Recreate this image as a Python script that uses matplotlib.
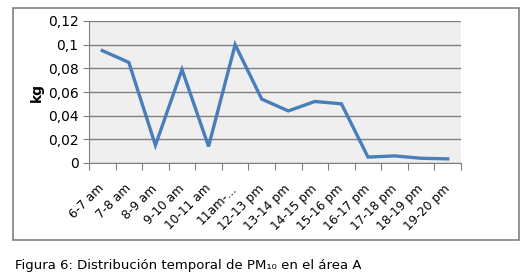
import matplotlib.pyplot as plt
from matplotlib.patches import Rectangle

horas = ['6-7 am', '7-8 am', '8-9 am', '9-10 am', '10-11 am', '11am-...',
         '12-13 pm', '13-14 pm', '14-15 pm', '15-16 pm', '16-17 pm',
         '17-18 pm', '18-19 pm', '19-20 pm']
pm10 = [0.095, 0.085, 0.015, 0.079, 0.014, 0.100, 0.054, 0.044,
        0.052, 0.050, 0.005, 0.006, 0.004, 0.0035]
yticks = [0, 0.02, 0.04, 0.06, 0.08, 0.1, 0.12]
ylabels = ['0', '0,02', '0,04', '0,06', '0,08', '0,1', '0,12']

fig = plt.figure(figsize=(5.28, 2.80), dpi=100)
fig.patches.append(Rectangle((13/528, 1-240/280), 506/528, 232/280,
                             transform=fig.transFigure, fill=False,
                             edgecolor='#808080', linewidth=1.2))

ax = fig.add_axes([89/528, 1-163/280, 372/528, 142/280])
ax.set_facecolor('#efefef')
x = range(len(horas))
ax.plot(x, pm10, color='#4a7ebb', linewidth=2.4, solid_joinstyle='miter')

ax.set_xlim(-0.5, len(horas) - 0.5)
ax.set_ylim(0, 0.12)
ax.set_yticks(yticks)
ax.set_yticklabels(ylabels, fontsize=10)
ax.yaxis.grid(True, color='#808080', linewidth=1)
ax.set_axisbelow(True)

ax.set_xticks([i - 0.5 for i in range(len(horas) + 1)])
ax.set_xticklabels([])
ax.set_xticks(list(x), minor=True)
ax.set_xticklabels(horas, minor=True, rotation=45, ha='right', va='center',
                   rotation_mode='anchor', fontsize=8.7)
ax.tick_params(axis='x', which='major', length=5, color='#808080')
ax.tick_params(axis='x', which='minor', length=0, pad=17)
ax.tick_params(axis='y', length=4, color='#808080')

for s in ['top', 'right']:
    ax.spines[s].set_visible(False)
ax.spines['left'].set_color('#808080')
ax.spines['bottom'].set_color('#808080')

ax.set_ylabel('kg', fontsize=10, fontweight='bold', labelpad=3)

fig.text(15/528, 1-265/280, 'Figura 6: Distribución temporal de PM₁₀ en el área A',
         fontsize=9.5, va='center', ha='left')

plt.savefig('out.png', dpi=100)
